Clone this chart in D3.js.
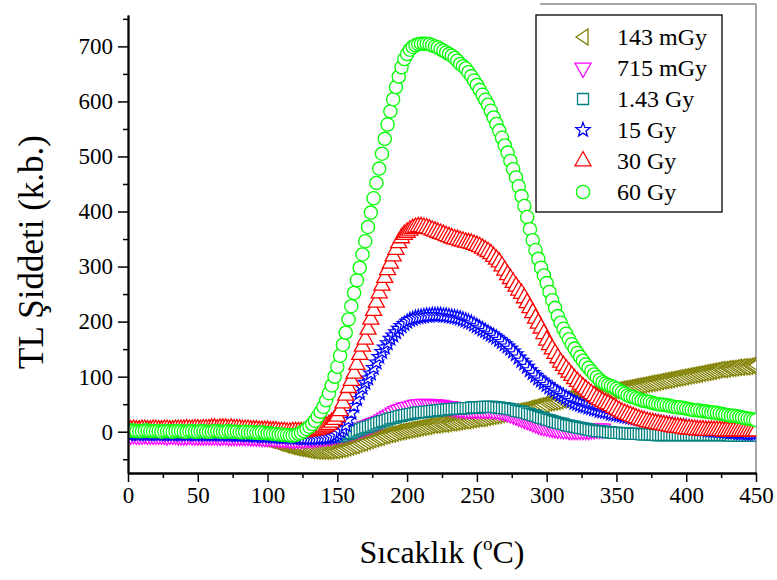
<!DOCTYPE html>
<html>
<head>
<meta charset="utf-8">
<script src="https://cdn.jsdelivr.net/npm/d3@7"></script>
<style>
  body { margin: 0; background: #fff; }
  svg { display: block; }
</style>
</head>
<body>
<svg id="chart" width="777" height="580"></svg>
<script>
// Sampling grid of the glow curves (°C), one reading every 2 °C
const temperatures = d3.range(0, 451, 2);

// TL intensity (arbitrary units) for each dose
const dose143mGy = [
  -3,-3,-3,-3,-3,-3,-3,-3,-3,-3,
  -3,-3,-3,-3,-3,-3,-3,-3,-3,-3,
  -3,-3,-3,-3,-4,-4,-4,-4,-4,-4,
  -4,-4,-4,-4,-4,-5,-5,-5,-5,-5,
  -6,-6,-7,-7,-8,-9,-10,-11,-12,-13,
  -14,-16,-17,-19,-21,-22,-24,-25,-27,-28,
  -29,-30,-31,-32,-33,-34,-34,-35,-35,-35,
  -35,-35,-35,-34,-34,-33,-32,-31,-29,-28,
  -26,-25,-23,-21,-20,-18,-16,-14,-13,-11,
  -10,-8,-7,-5,-4,-3,-1,0,1,2,
  3,4,5,6,7,8,9,10,11,12,
  12,13,14,14,15,16,16,17,18,19,
  20,20,21,22,23,24,24,25,26,27,
  28,29,30,31,32,33,34,35,36,37,
  38,39,40,42,43,44,46,47,48,50,
  52,53,54,55,56,58,59,60,61,62,
  64,64,65,66,66,67,68,69,70,71,
  71,72,73,74,75,76,77,78,79,80,
  81,82,83,84,85,86,87,88,89,90,
  91,92,93,94,95,96,97,98,99,100,
  101,102,103,104,105,106,107,108,109,110,
  111,112,113,113,114,115,115,116,117,117,
  118,118,119,120,120,
  121
];

// this run stops at 340 °C
const dose715mGy = [
  -6,-6,-5,-6,-6,-6,-5,-6,-6,-6,
  -6,-6,-6,-6,-7,-6,-6,-6,-7,-7,
  -7,-7,-6,-7,-7,-7,-7,-7,-7,-7,
  -7,-7,-7,-8,-7,-7,-8,-8,-8,-8,
  -8,-8,-8,-8,-9,-9,-9,-9,-10,-10,
  -10,-10,-11,-11,-12,-12,-12,-12,-13,-13,
  -13,-13,-13,-13,-12,-12,-12,-11,-11,-10,
  -9,-9,-8,-7,-6,-5,-4,-3,-2,-1,
  1,2,4,5,7,9,11,13,15,17,
  19,22,25,28,31,34,37,39,41,43,
  44,45,47,48,49,49,50,50,49,49,
  49,48,48,47,46,46,45,44,43,42,
  42,41,41,41,41,41,41,41,41,41,
  41,40,40,39,38,37,35,33,31,29,
  27,25,23,21,19,17,15,13,11,10,
  9,8,7,6,5,5,4,4,3,3,
  3,3,3,3,3,3,4,4,5,5,
  5
];

const dose1_43Gy = [
  -2,-2,-3,-2,-2,-3,-3,-2,-3,-3,
  -3,-3,-2,-3,-3,-3,-3,-3,-3,-3,
  -3,-3,-4,-3,-3,-4,-4,-3,-4,-4,
  -4,-4,-3,-4,-4,-4,-4,-4,-4,-5,
  -5,-5,-5,-5,-5,-6,-6,-6,-6,-6,
  -7,-7,-7,-7,-8,-8,-8,-9,-9,-9,
  -9,-10,-10,-10,-10,-11,-11,-11,-11,-11,
  -11,-10,-10,-10,-9,-9,-8,-7,-5,-4,
  -2,0,2,4,6,8,9,11,13,15,
  17,19,20,22,24,25,26,28,29,30,
  31,32,33,34,35,35,36,36,37,38,
  38,39,39,40,40,41,41,42,42,42,
  43,43,43,44,44,44,44,45,45,45,
  45,45,44,44,43,43,42,41,40,38,
  37,36,35,33,32,30,29,27,25,24,
  22,21,19,18,16,15,14,12,11,10,
  9,8,7,6,5,4,3,2,1,1,
  0,0,-1,-1,-2,-2,-2,-3,-3,-3,
  -4,-4,-4,-4,-5,-5,-5,-5,-5,-6,
  -6,-6,-6,-6,-6,-6,-6,-6,-6,-6,
  -6,-6,-6,-6,-6,-6,-6,-6,-6,-6,
  -6,-6,-6,-6,-6,-6,-7,-7,-7,-7,
  -7,-7,-7,-7,-7,
  -7
];

const dose15Gy = [
  -4,-4,-3,-4,-4,-3,-4,-4,-4,-3,
  -4,-4,-4,-3,-4,-4,-5,-4,-4,-4,
  -4,-5,-4,-4,-5,-5,-4,-5,-5,-5,
  -5,-5,-4,-5,-5,-5,-6,-5,-5,-6,
  -6,-6,-6,-7,-6,-7,-7,-7,-8,-8,
  -8,-8,-9,-9,-9,-10,-10,-10,-10,-11,
  -11,-11,-11,-12,-12,-12,-12,-12,-12,-11,
  -11,-11,-10,-9,-7,-4,0,5,12,22,
  34,47,59,70,80,89,97,106,116,126,
  136,145,153,161,169,175,181,187,192,196,
  200,203,205,207,208,209,210,211,211,212,
  212,212,212,211,211,210,209,208,207,206,
  204,202,200,198,195,192,189,186,183,180,
  177,174,171,167,163,159,155,151,146,141,
  135,129,124,118,112,107,102,97,93,89,
  85,81,78,75,71,68,65,62,59,56,
  53,51,49,47,46,44,43,41,40,38,
  37,36,35,33,32,31,30,29,28,27,
  26,25,24,23,22,21,20,19,18,18,
  17,16,15,14,14,13,12,11,10,10,
  9,8,7,6,6,5,4,4,3,3,
  2,2,1,1,0,0,-1,-1,-1,-2,
  -2,-2,-3,-3,-3,
  -3
];

const dose30Gy = [
  3,3,4,3,3,4,4,3,3,4,
  4,3,3,4,4,3,3,4,4,4,
  4,5,4,4,5,5,4,5,5,5,
  6,6,5,6,6,6,5,6,5,5,
  5,4,4,4,3,3,3,2,2,2,
  2,1,1,1,0,0,0,-1,-1,0,
  0,0,0,0,1,1,2,3,4,6,
  8,10,13,17,22,28,38,52,66,80,
  93,106,122,140,155,168,186,204,220,235,
  252,266,280,294,306,319,331,343,352,358,
  362,366,369,371,372,372,371,370,368,366,
  364,362,360,358,356,354,352,350,349,347,
  346,344,343,342,340,338,336,333,330,327,
  323,318,313,308,301,293,285,278,271,264,
  257,251,243,234,225,216,206,197,188,178,
  166,158,150,142,134,126,120,114,108,102,
  96,91,86,81,77,73,69,65,61,58,
  55,52,50,47,44,41,38,35,33,31,
  29,27,25,23,21,20,18,17,16,15,
  14,13,12,11,10,9,8,8,7,6,
  5,5,4,4,3,3,3,2,2,2,
  2,2,2,1,1,1,1,1,1,1,
  1,1,1,1,1,
  1
];

const dose60Gy = [
  2,2,2,1,1,1,2,2,1,1,
  1,1,0,1,1,1,0,1,1,1,
  0,0,1,1,0,0,1,1,0,0,
  0,1,1,0,0,0,1,0,0,0,
  -1,-1,0,-1,-1,-1,-2,-2,-1,-2,
  -3,-3,-4,-4,-5,-5,-6,-6,-7,-7,
  -6,-4,-2,1,5,9,14,20,28,36,
  45,57,70,84,100,118,138,158,180,204,
  228,252,275,298,322,346,372,398,424,452,
  478,505,532,558,582,604,626,645,662,677,
  686,694,699,702,704,705,705,705,704,702,
  700,698,695,692,689,686,683,679,674,668,
  664,660,653,646,638,630,621,612,603,594,
  583,571,559,547,534,520,507,492,477,462,
  446,428,410,390,368,348,330,314,298,284,
  270,254,239,225,210,198,187,178,168,159,
  151,143,136,129,122,116,110,104,99,94,
  90,87,85,83,81,78,75,72,69,66,
  64,63,61,59,57,56,55,54,52,51,
  50,49,49,48,47,46,45,44,44,43,
  42,41,40,39,39,38,37,37,36,35,
  35,34,33,32,31,30,29,29,28,27,
  26,25,24,23,22,
  21
];

const legendLabels = ["143 mGy", "715 mGy", "1.43 Gy", "15 Gy", "30 Gy", "60 Gy"];
const xTickValues = [0, 50, 100, 150, 200, 250, 300, 350, 400, 450];
const xMinorTicks = [25, 75, 125, 175, 225, 275, 325, 375, 425];
const yTickValues = [0, 100, 200, 300, 400, 500, 600, 700];
const yMinorTicks = [-50, 50, 150, 250, 350, 450, 550, 650, 750];

// Open marker outlines, centred on the data point
function starPath(R, r) {
  const pts = [];
  for (let i = 0; i < 10; i++) {
    const a = -Math.PI / 2 + i * Math.PI / 5;
    const rad = i % 2 ? r : R;
    pts.push([(rad * Math.cos(a)).toFixed(2), (rad * Math.sin(a)).toFixed(2)]);
  }
  return "M" + pts.map(p => p.join(",")).join("L") + "Z";
}
const shapes = {
  left:   "M-7,0L5,-8L5,8Z",
  down:   "M0,9.5L8,-4.8L-8,-4.8Z",
  square: "M-5.5,-5.5H5.5V5.5H-5.5Z",
  star:   starPath(7.5, 3.1),
  up:     "M0,-9.5L8,4.8L-8,4.8Z",
  circle: "M6.6,0A6.6,6.6 0 1,1 -6.6,0A6.6,6.6 0 1,1 6.6,0Z"
};

const series = [
  { label: legendLabels[0], values: dose143mGy, color: "#808000", shape: "left" },
  { label: legendLabels[1], values: dose715mGy, color: "#FF00FF", shape: "down" },
  { label: legendLabels[2], values: dose1_43Gy, color: "#008080", shape: "square" },
  { label: legendLabels[3], values: dose15Gy,   color: "#0000FF", shape: "star" },
  { label: legendLabels[4], values: dose30Gy,   color: "#FF0000", shape: "up" },
  { label: legendLabels[5], values: dose60Gy,   color: "#00FF00", shape: "circle" }
];

const FONT = "'Liberation Serif', 'Times New Roman', serif";
const svg = d3.select("#chart");

const plotLeft = 128, plotRight = 756, plotTop = 15, plotBottom = 473;
const x = d3.scaleLinear().domain([0, 450]).range([plotLeft, plotRight]);
const y = d3.scaleLinear().domain([-75, 757]).range([plotBottom, plotTop]);

// outer frame (grey) on the right and top
svg.append("line").attr("x1", plotRight).attr("x2", plotRight).attr("y1", 4).attr("y2", plotBottom)
  .attr("stroke", "#888").attr("stroke-width", 1.5);
svg.append("line").attr("x1", 540).attr("x2", plotRight).attr("y1", 4).attr("y2", 4)
  .attr("stroke", "#888").attr("stroke-width", 1.5);

svg.append("defs").append("clipPath").attr("id", "plotClip")
  .append("rect").attr("x", plotLeft).attr("y", 4)
  .attr("width", plotRight - plotLeft).attr("height", plotBottom - 4);

const plot = svg.append("g").attr("clip-path", "url(#plotClip)");

series.forEach(s => {
  plot.append("g")
    .selectAll("path")
    .data(s.values.map((v, i) => [temperatures[i], v]))
    .join("path")
    .attr("d", shapes[s.shape])
    .attr("transform", d => `translate(${x(d[0])},${y(d[1])})`)
    .attr("fill", "#fff")
    .attr("stroke", s.color)
    .attr("stroke-width", 1.3);
});

// axes
function styleAxis(g) {
  g.select(".domain").attr("stroke", "#000").attr("stroke-width", 1.8);
  g.selectAll(".tick line").attr("stroke", "#000").attr("stroke-width", 1.5);
  g.selectAll("text").attr("font-family", FONT).attr("font-size", 23).attr("fill", "#000");
}

svg.append("g").attr("transform", `translate(0,${plotBottom})`)
  .call(d3.axisBottom(x).tickValues(xMinorTicks).tickSize(5).tickSizeOuter(0).tickFormat(""))
  .call(styleAxis);
svg.append("g").attr("transform", `translate(0,${plotBottom})`)
  .call(d3.axisBottom(x).tickValues(xTickValues).tickSize(9).tickPadding(5).tickSizeOuter(0).tickFormat(d3.format("d")))
  .call(styleAxis);

svg.append("g").attr("transform", `translate(${plotLeft},0)`)
  .call(d3.axisLeft(y).tickValues(yMinorTicks).tickSize(5).tickSizeOuter(0).tickFormat(""))
  .call(styleAxis);
svg.append("g").attr("transform", `translate(${plotLeft},0)`)
  .call(d3.axisLeft(y).tickValues(yTickValues).tickSize(10).tickPadding(5).tickSizeOuter(0).tickFormat(d3.format("d")))
  .call(styleAxis);

// axis titles
const xTitle = svg.append("text")
  .attr("x", 442).attr("y", 563)
  .attr("text-anchor", "middle")
  .attr("font-family", FONT).attr("font-size", 32).attr("fill", "#000");
xTitle.append("tspan").text("Sıcaklık (");
xTitle.append("tspan").attr("font-size", 19).attr("dy", -13).text("o");
xTitle.append("tspan").attr("dy", 13).text("C)");

svg.append("text")
  .attr("transform", "translate(43,252) rotate(-90)")
  .attr("text-anchor", "middle")
  .attr("font-family", FONT).attr("font-size", 35).attr("fill", "#000")
  .text("TL Şiddeti (k.b.)");

// legend
const legend = svg.append("g");
legend.append("rect")
  .attr("x", 536).attr("y", 15).attr("width", 186).attr("height", 197)
  .attr("fill", "#fff").attr("stroke", "#000").attr("stroke-width", 1.3);
series.forEach((s, i) => {
  const cy = 37 + i * 31;
  legend.append("path")
    .attr("d", shapes[s.shape])
    .attr("transform", `translate(583,${cy})`)
    .attr("fill", "#fff").attr("stroke", s.color).attr("stroke-width", 1.3);
  legend.append("text")
    .attr("x", 617).attr("y", cy + 8)
    .attr("font-family", FONT).attr("font-size", 24).attr("fill", "#000")
    .text(s.label);
});
</script>
</body>
</html>
